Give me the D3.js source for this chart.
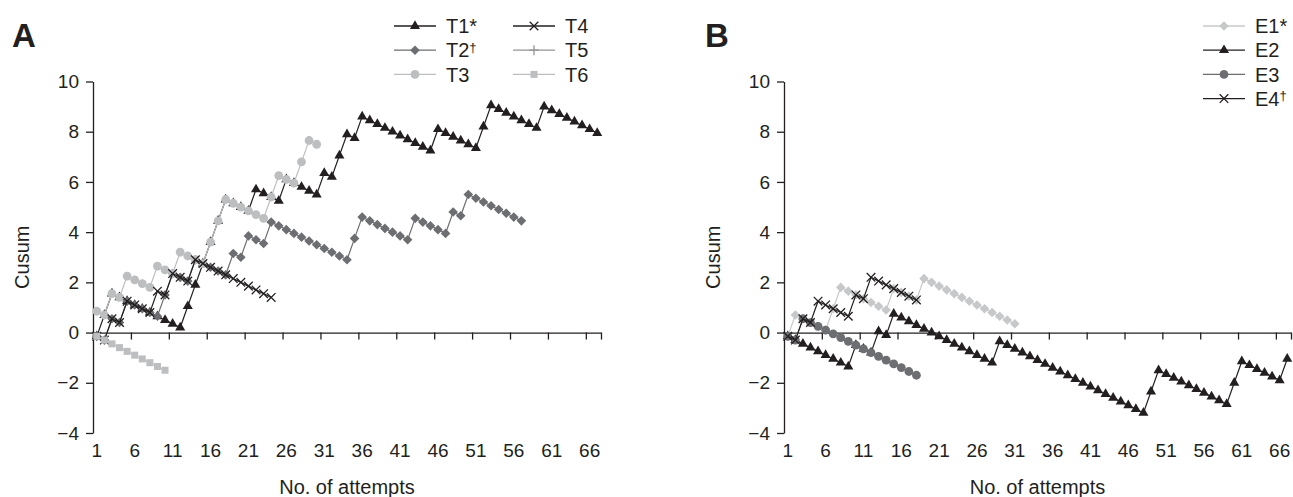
<!DOCTYPE html>
<html>
<head>
<meta charset="utf-8">
<script src="https://cdn.jsdelivr.net/npm/d3@7"></script>
<style>
  body { margin: 0; background: #fff; }
  svg { display: block; font-family: "Liberation Sans", Arial, sans-serif; }
  .axis path, .axis line { stroke: #231f20; stroke-width: 1.3; }
  .axis text { fill: #231f20; font-size: 19px; }
</style>
</head>
<body>
<svg id="chart" width="1293" height="497"></svg>
<script>
// categories (attempt numbers) and the tick labels printed under the axis
var attempts = d3.range(1, 68);
var xTickLabels = [1, 6, 11, 16, 21, 26, 31, 36, 41, 46, 51, 56, 61, 66];
var yTicks = [-4, -2, 0, 2, 4, 6, 8, 10];

// panel A - cusum per attempt
var t1 = [-0.15, 0.7, 1.55, 1.4, 1.25, 1.1, 0.95, 0.8, 0.65, 0.5, 0.35, 0.2, 1.05, 1.9, 2.75, 3.6, 4.45, 5.3, 5.15, 5.0,
          4.85, 5.7, 5.55, 5.4, 5.25, 6.1, 5.95, 5.8, 5.65, 5.5, 6.35, 6.2, 7.05, 7.9, 7.75, 8.6, 8.45, 8.3, 8.15, 8.0,
          7.85, 7.7, 7.55, 7.4, 7.25, 8.1, 7.95, 7.8, 7.65, 7.5, 7.35, 8.2, 9.05, 8.9, 8.75, 8.6, 8.45, 8.3, 8.15, 9.0,
          8.85, 8.7, 8.55, 8.4, 8.25, 8.1, 7.95];
var t2 = [-0.15, -0.3, 0.55, 0.4, 1.25, 1.1, 0.95, 0.8, 0.65, 1.5, 2.35, 2.2, 2.05, 2.9, 2.75, 2.6, 2.45, 2.3, 3.15, 3.0,
          3.85, 3.7, 3.55, 4.4, 4.25, 4.1, 3.95, 3.8, 3.65, 3.5, 3.35, 3.2, 3.05, 2.9, 3.75, 4.6, 4.45, 4.3, 4.15, 4.0,
          3.85, 3.7, 4.55, 4.4, 4.25, 4.1, 3.95, 4.8, 4.65, 5.5, 5.35, 5.2, 5.05, 4.9, 4.75, 4.6, 4.45];
var t3 = [0.85, 0.7, 1.55, 1.4, 2.25, 2.1, 1.95, 1.8, 2.65, 2.5, 2.35, 3.2, 3.05, 2.9, 2.75, 3.6, 4.45, 5.3, 5.15, 5.0,
          4.85, 4.7, 4.55, 5.4, 6.25, 6.1, 5.95, 6.8, 7.65, 7.5];
var t4 = [-0.15, -0.3, 0.55, 0.4, 1.25, 1.1, 0.95, 0.8, 1.65, 1.5, 2.35, 2.2, 2.05, 2.9, 2.75, 2.6, 2.45, 2.3, 2.15, 2.0,
          1.85, 1.7, 1.55, 1.4];
var t5 = []; // in the legend but not visible in the plot
var t6 = [-0.15, -0.3, -0.45, -0.6, -0.75, -0.9, -1.05, -1.2, -1.35, -1.5];

// panel B
var e1 = [-0.15, 0.7, 0.55, 0.4, 0.25, 0.1, 0.95, 1.8, 1.65, 1.5, 1.35, 1.2, 1.05, 0.9, 1.75, 1.6, 1.45, 1.3, 2.15, 2.0,
          1.85, 1.7, 1.55, 1.4, 1.25, 1.1, 0.95, 0.8, 0.65, 0.5, 0.35];
var e2 = [-0.15, -0.3, -0.45, -0.6, -0.75, -0.9, -1.05, -1.2, -1.35, -0.5, -0.65, -0.8, 0.05, -0.1, 0.75, 0.6, 0.45, 0.3, 0.15, 0.0,
          -0.15, -0.3, -0.45, -0.6, -0.75, -0.9, -1.05, -1.2, -0.35, -0.5, -0.65, -0.8, -0.95, -1.1, -1.25, -1.4, -1.55, -1.7, -1.85, -2.0,
          -2.15, -2.3, -2.45, -2.6, -2.75, -2.9, -3.05, -3.2, -2.35, -1.5, -1.65, -1.8, -1.95, -2.1, -2.25, -2.4, -2.55, -2.7, -2.85, -2.0,
          -1.15, -1.3, -1.45, -1.6, -1.75, -1.9, -1.05];
var e3 = [-0.15, -0.3, 0.55, 0.4, 0.25, 0.1, -0.05, -0.2, -0.35, -0.5, -0.65, -0.8, -0.95, -1.1, -1.25, -1.4, -1.55, -1.7];
var e4 = [-0.15, -0.3, 0.55, 0.4, 1.25, 1.1, 0.95, 0.8, 0.65, 1.5, 1.35, 2.2, 2.05, 1.9, 1.75, 1.6, 1.45, 1.3];

var BLACK = "#231f20", DARK = "#6d6e71", MID = "#939598", LIGHT = "#bcbec0";

var seriesA = [
    {label: "T1", sup: "*", values: t1, color: BLACK, marker: "triangle"},
    {label: "T2", sup: "†", values: t2, color: DARK, marker: "diamond"},
    {label: "T3", sup: "", values: t3, color: LIGHT, marker: "circle"},
    {label: "T4", sup: "", values: t4, color: BLACK, marker: "cross"},
    {label: "T5", sup: "", values: t5, color: MID, marker: "plus"},
    {label: "T6", sup: "", values: t6, color: LIGHT, marker: "square"}
];
var seriesB = [
    {label: "E1", sup: "*", values: e1, color: "#c7c8ca", marker: "diamond"},
    {label: "E2", sup: "", values: e2, color: BLACK, marker: "triangle"},
    {label: "E3", sup: "", values: e3, color: DARK, marker: "circle"},
    {label: "E4", sup: "†", values: e4, color: BLACK, marker: "cross"}
];

var svg = d3.select("#chart");

// draws one marker at (0,0) inside group g
function addMarker(g, type, color){
    if(type == "triangle"){
        g.append("path").attr("d", d3.symbol().type(d3.symbolTriangle).size(44)()).attr("fill", color);
    } else if(type == "circle"){
        g.append("circle").attr("r", 4.4).attr("fill", color);
    } else if(type == "diamond"){
        g.append("path").attr("d", "M0,-4.8L4.8,0L0,4.8L-4.8,0Z").attr("fill", color);
    } else if(type == "square"){
        g.append("rect").attr("x", -3.5).attr("y", -3.5).attr("width", 7).attr("height", 7).attr("fill", color);
    } else if(type == "cross"){
        g.append("path").attr("d", "M-4.3,-4.3L4.3,4.3M-4.3,4.3L4.3,-4.3").attr("stroke", color).attr("stroke-width", 1.3).attr("fill", "none");
    } else if(type == "plus"){
        g.append("path").attr("d", "M0,-5L0,5M-5,0L5,0").attr("stroke", color).attr("stroke-width", 1.3).attr("fill", "none");
    }
}

function drawPanel(left, right, letter, letterX, series){
    var x = d3.scaleBand().domain(attempts).range([left, right]);
    var xEdge = d3.scaleLinear().domain([0, attempts.length]).range([left, right]);
    var y = d3.scaleLinear().domain([-4, 10]).range([433, 81.5]);
    var cx = function(i){ return x(attempts[i]) + x.bandwidth() / 2; };

    // y axis
    svg.append("g").attr("class", "axis")
        .attr("transform", "translate(" + left + ",0)")
        .call(d3.axisLeft(y).tickValues(yTicks).tickSize(7).tickSizeOuter(0).tickPadding(7));

    // x axis line at zero, ticks on category boundaries
    var edges = d3.range(0, attempts.length, 5).concat([attempts.length]);
    svg.append("g").attr("class", "axis")
        .attr("transform", "translate(0," + y(0) + ")")
        .call(d3.axisBottom(xEdge).tickValues(edges).tickSize(7).tickSizeOuter(0).tickFormat(""));

    // x labels sit below the plot
    var xl = svg.append("g").attr("class", "axis")
        .attr("transform", "translate(0," + y(-4) + ")")
        .call(d3.axisBottom(x).tickValues(xTickLabels).tickSize(0).tickPadding(11));
    xl.select(".domain").remove();

    svg.append("text")
        .attr("x", (left + right) / 2).attr("y", 494)
        .attr("text-anchor", "middle").attr("fill", BLACK).style("font-size", "20px")
        .text("No. of attempts");

    svg.append("text")
        .attr("transform", "translate(" + (left - 64) + "," + ((y(10) + y(-4)) / 2) + ") rotate(-90)")
        .attr("text-anchor", "middle").attr("fill", BLACK).style("font-size", "20px")
        .text("Cusum");

    svg.append("text")
        .attr("x", letterX).attr("y", 47)
        .attr("fill", BLACK).style("font-size", "33px").style("font-weight", "bold")
        .text(letter);

    var line = d3.line().x(function(d, i){ return cx(i); }).y(function(d){ return y(d); });

    series.forEach(function(s){
        var g = svg.append("g");
        g.append("path").datum(s.values)
            .attr("d", line).attr("fill", "none")
            .attr("stroke", s.color).attr("stroke-width", 1.2);
        s.values.forEach(function(v, i){
            var m = g.append("g").attr("transform", "translate(" + cx(i) + "," + y(v) + ")");
            addMarker(m, s.marker, s.color);
        });
    });
}

function drawLegend(series, cols){
    series.forEach(function(s, i){
        var c = cols[Math.floor(i / cols.rows)];
        var yy = 26 + (i % cols.rows) * 24.2;
        var g = svg.append("g");
        g.append("line").attr("x1", c.x0).attr("x2", c.x0 + 42).attr("y1", yy).attr("y2", yy)
            .attr("stroke", s.color).attr("stroke-width", 1.3);
        var m = g.append("g").attr("transform", "translate(" + (c.x0 + 21) + "," + yy + ")");
        addMarker(m, s.marker, s.color);
        var t = g.append("text").attr("x", c.x0 + 52).attr("y", yy).attr("dy", "0.36em")
            .attr("fill", BLACK).style("font-size", "20px").text(s.label);
        if(s.sup == "*"){
            t.append("tspan").text("*");
        } else if(s.sup){
            t.append("tspan").attr("dy", "-0.45em").style("font-size", "13px").text(s.sup);
        }
    });
}

drawPanel(93, 601, "A", 12, seriesA);
drawPanel(784, 1291, "B", 705, seriesB);

var colsA = [{x0: 394}, {x0: 513}]; colsA.rows = 3;
drawLegend(seriesA, colsA);
var colsB = [{x0: 1203}]; colsB.rows = 4;
drawLegend(seriesB, colsB);
</script>
</body>
</html>
